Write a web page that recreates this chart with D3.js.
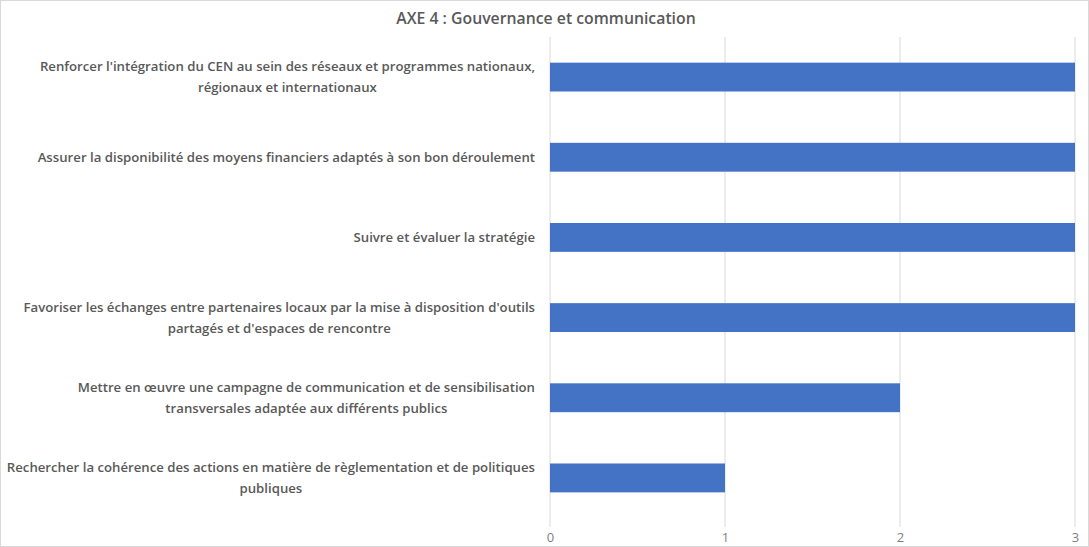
<!DOCTYPE html>
<html><head><meta charset="utf-8">
<script src="https://cdn.jsdelivr.net/npm/d3@7"></script>
<style>body{margin:0;background:#fff;} svg{display:block;}</style>
</head><body>
<svg id="c" width="1089" height="547"></svg>
<script>
const title = "AXE 4 : Gouvernance et communication";
const categories = [
  ["Renforcer l'intégration du CEN au sein des réseaux et programmes nationaux,", "régionaux et internationaux"],
  ["Assurer la disponibilité des moyens financiers adaptés à son bon déroulement"],
  ["Suivre et évaluer la stratégie"],
  ["Favoriser les échanges entre partenaires locaux par la mise à disposition d'outils", "partagés et d'espaces de rencontre"],
  ["Mettre en œuvre une campagne de communication et de sensibilisation", "transversales adaptée aux différents publics"],
  ["Rechercher la cohérence des actions en matière de règlementation et de politiques", "publiques"]
];
const values = [3, 3, 3, 3, 2, 1];
const tickValues = [0, 1, 2, 3];

const svg = d3.select("#c");
const W = 1089, H = 547;
const m = {left: 550, right: 14, top: 37};
const font = "'Open Sans', sans-serif";
const textColor = "#595959";

svg.append("rect").attr("x", 0.5).attr("y", 0.5).attr("width", W - 1).attr("height", H - 1)
  .attr("fill", "#fff").attr("stroke", "#d9d9d9");

const x = d3.scaleLinear().domain([0, 3]).range([m.left, W - m.right]);
const y = d3.scaleBand().domain(d3.range(categories.length)).range([m.top, 518]).paddingInner(0.64).paddingOuter(0.32);

// gridlines
svg.append("g").selectAll("line").data(tickValues).join("line")
  .attr("x1", d => x(d)).attr("x2", d => x(d))
  .attr("y1", m.top).attr("y2", 527)
  .attr("stroke", "#d9d9d9").attr("stroke-width", 1);

// bars
svg.append("g").selectAll("rect").data(values).join("rect")
  .attr("x", x(0)).attr("y", (d, i) => y(i))
  .attr("width", d => x(d) - x(0)).attr("height", y.bandwidth())
  .attr("fill", "#4472c4");

// tick labels
const xAxis = d3.axisBottom(x).tickValues(tickValues).tickFormat(d3.format("d")).tickSize(0).tickPadding(0);
const ax = svg.append("g").attr("transform", `translate(0,537)`).call(xAxis);
ax.select(".domain").remove();
ax.selectAll("text").attr("font-family", font).attr("font-size", 13).attr("fill", "#7f7f7f").attr("dy", "0.35em");

// category labels
const labelRight = 535;
const lg = svg.append("g");
categories.forEach((lines, i) => {
  const cy = y(i) + y.bandwidth() / 2;
  const t = lg.append("text").attr("font-family", font).attr("font-size", 13.2).attr("font-weight", 600)
    .attr("fill", textColor).attr("text-anchor", "middle");
  const lh = 21;
  const spans = lines.map((s, k) => t.append("tspan").attr("y", cy + (k - (lines.length - 1) / 2) * lh).attr("dy", "0.35em").text(s));
  const maxW = d3.max(spans, sp => sp.node().getComputedTextLength());
  spans.forEach(sp => sp.attr("x", labelRight - maxW / 2));
});

// title
svg.append("text").attr("x", 546).attr("y", 18).attr("dy", "0.35em").attr("text-anchor", "middle")
  .attr("font-family", font).attr("font-size", 15.8).attr("font-weight", 600).attr("fill", textColor).text(title);
</script>
</body></html>
